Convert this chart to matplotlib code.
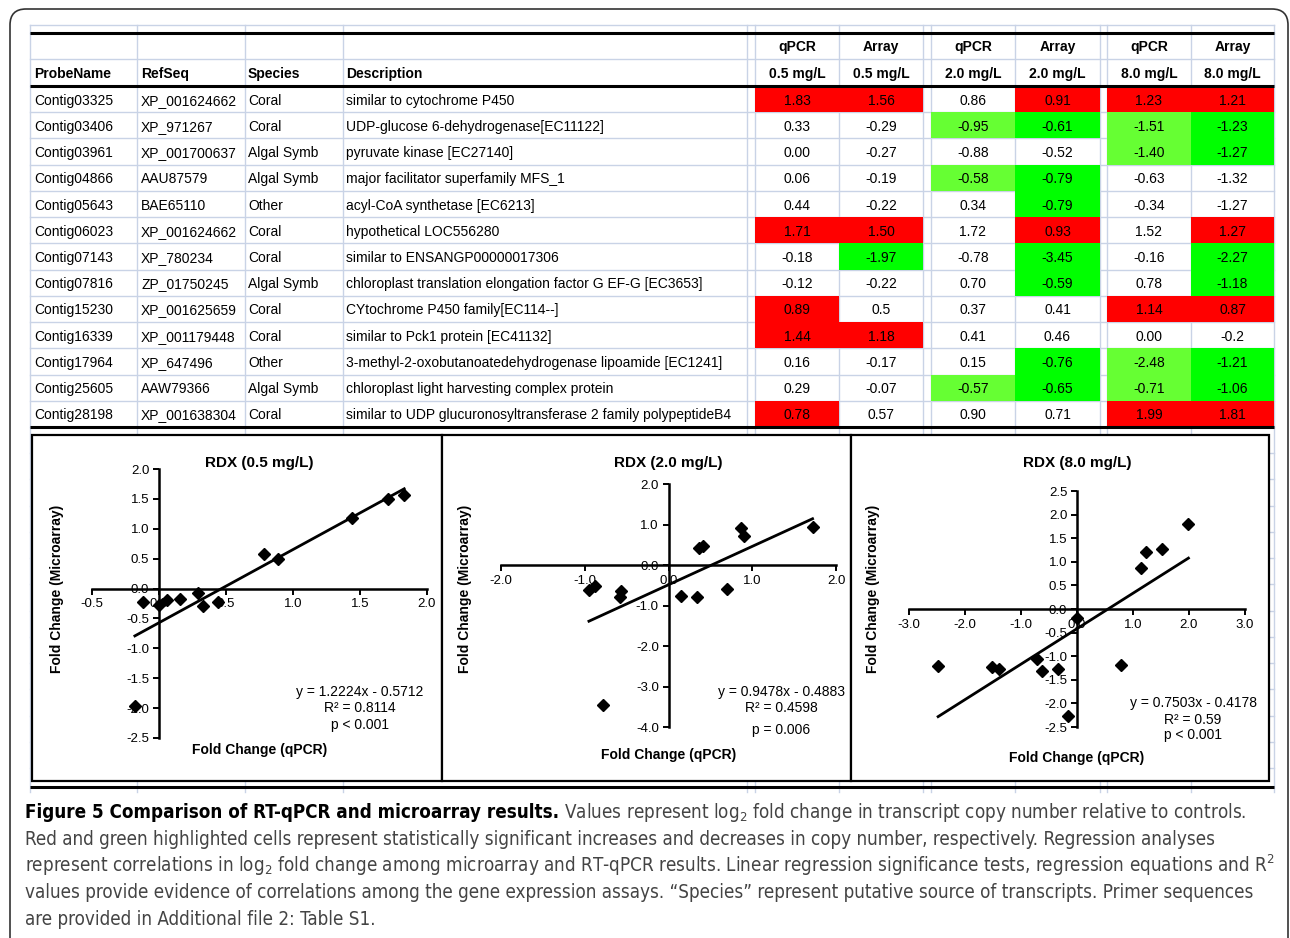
import numpy as np
import matplotlib.pyplot as plt
from matplotlib.patches import Rectangle, FancyBboxPatch
from matplotlib import font_manager

plt.rcParams['font.family'] = ['Liberation Sans', 'DejaVu Sans']
plt.rcParams['axes.unicode_minus'] = False

# ---- table data ----
probe = ["Contig03325", "Contig03406", "Contig03961", "Contig04866", "Contig05643",
         "Contig06023", "Contig07143", "Contig07816", "Contig15230", "Contig16339",
         "Contig17964", "Contig25605", "Contig28198"]
refseq = ["XP_001624662", "XP_971267", "XP_001700637", "AAU87579", "BAE65110",
          "XP_001624662", "XP_780234", "ZP_01750245", "XP_001625659", "XP_001179448",
          "XP_647496", "AAW79366", "XP_001638304"]
species = ["Coral", "Coral", "Algal Symb", "Algal Symb", "Other", "Coral", "Coral",
           "Algal Symb", "Coral", "Coral", "Other", "Algal Symb", "Coral"]
desc = ["similar to cytochrome P450",
        "UDP-glucose 6-dehydrogenase[EC11122]",
        "pyruvate kinase [EC27140]",
        "major facilitator superfamily MFS_1",
        "acyl-CoA synthetase [EC6213]",
        "hypothetical LOC556280",
        "similar to ENSANGP00000017306",
        "chloroplast translation elongation factor G EF-G [EC3653]",
        "CYtochrome P450 family[EC114--]",
        "similar to Pck1 protein [EC41132]",
        "3-methyl-2-oxobutanoatedehydrogenase lipoamide [EC1241]",
        "chloroplast light harvesting complex protein",
        "similar to UDP glucuronosyltransferase 2 family polypeptideB4"]

qpcr_05 = ["1.83", "0.33", "0.00", "0.06", "0.44", "1.71", "-0.18", "-0.12", "0.89", "1.44", "0.16", "0.29", "0.78"]
array_05 = ["1.56", "-0.29", "-0.27", "-0.19", "-0.22", "1.50", "-1.97", "-0.22", "0.5", "1.18", "-0.17", "-0.07", "0.57"]
qpcr_20 = ["0.86", "-0.95", "-0.88", "-0.58", "0.34", "1.72", "-0.78", "0.70", "0.37", "0.41", "0.15", "-0.57", "0.90"]
array_20 = ["0.91", "-0.61", "-0.52", "-0.79", "-0.79", "0.93", "-3.45", "-0.59", "0.41", "0.46", "-0.76", "-0.65", "0.71"]
qpcr_80 = ["1.23", "-1.51", "-1.40", "-0.63", "-0.34", "1.52", "-0.16", "0.78", "1.14", "0.00", "-2.48", "-0.71", "1.99"]
array_80 = ["1.21", "-1.23", "-1.27", "-1.32", "-1.27", "1.27", "-2.27", "-1.18", "0.87", "-0.2", "-1.21", "-1.06", "1.81"]

# significance flags: 'u' = increase (red), 'd' = decrease (green)
sig_q05 = ['u', '', '', '', '', 'u', '', '', 'u', 'u', '', '', 'u']
sig_a05 = ['u', '', '', '', '', 'u', 'd', '', '', 'u', '', '', '']
sig_q20 = ['', 'd', '', 'd', '', '', '', '', '', '', '', 'd', '']
sig_a20 = ['u', 'd', '', 'd', 'd', 'u', 'd', 'd', '', '', 'd', 'd', '']
sig_q80 = ['u', 'd', 'd', '', '', '', '', '', 'u', '', 'd', 'd', 'u']
sig_a80 = ['u', 'd', 'd', '', '', 'u', 'd', 'd', 'u', '', 'd', 'd', 'u']

num_heads = ["qPCR", "Array", "qPCR", "Array", "qPCR", "Array"]
num_units = ["0.5 mg/L", "0.5 mg/L", "2.0 mg/L", "2.0 mg/L", "8.0 mg/L", "8.0 mg/L"]
text_heads = ["ProbeName", "RefSeq", "Species", "Description"]

titles = ["RDX (0.5 mg/L)", "RDX (2.0 mg/L)", "RDX (8.0 mg/L)"]
eq_text = [["y = 1.2224x - 0.5712", "R\u00b2 = 0.8114", "p < 0.001"],
           ["y = 0.9478x - 0.4883", "R\u00b2 = 0.4598", "p = 0.006"],
           ["y = 0.7503x - 0.4178", "R\u00b2 = 0.59", "p < 0.001"]]

# ---- layout (pixels) ----
W, H = 1290, 938
fig = plt.figure(figsize=(W / 100, H / 100), dpi=100)
bg = fig.add_axes([0, 0, 1, 1])
bg.set_xlim(0, W)
bg.set_ylim(H, 0)
bg.axis('off')

grid_c = '#c9d3e6'
vlines = [30, 137, 245, 343, 747, 755, 839, 923, 931, 1015, 1100, 1107, 1191, 1274]
row_top, h1, h2, tab_bot = 33, 59, 86, 427
nrow = len(probe)
rh = (tab_bot - h2) / nrow
tfs = 10

# outer rounded frame
bg.add_patch(FancyBboxPatch((10, 9), 1278, 960, boxstyle="round,pad=0,rounding_size=16",
                            fc='white', ec='#333333', lw=1.2, zorder=0))

# excel-like grid
for x in vlines:
    bg.plot([x, x], [25, 792], color=grid_c, lw=1.0, zorder=1)
ys = [25, row_top, h1, h2] + [h2 + rh * i for i in range(1, nrow + 1)]
y = tab_bot + rh
while y < 792:
    ys.append(y)
    y += rh
for y in ys:
    bg.plot([30, 1274], [y, y], color=grid_c, lw=1.0, zorder=1)

# coloured cells and numbers
num_cols = [(755, 839), (839, 923), (931, 1015), (1015, 1100), (1107, 1191), (1191, 1274)]
num_vals = [qpcr_05, array_05, qpcr_20, array_20, qpcr_80, array_80]
num_sig = [sig_q05, sig_a05, sig_q20, sig_a20, sig_q80, sig_a80]
for j, ((x0, x1), vals, sig) in enumerate(zip(num_cols, num_vals, num_sig)):
    green = '#66ff33' if j % 2 == 0 else '#00ff00'
    for i, (v, s) in enumerate(zip(vals, sig)):
        yt = h2 + rh * i
        if s:
            bg.add_patch(Rectangle((x0, yt), x1 - x0, rh, fc='#ff0000' if s == 'u' else green,
                                   ec='none', zorder=2))
        bg.text((x0 + x1) / 2, yt + rh / 2, v, ha='center', va='center_baseline',
                fontsize=tfs, color='black', zorder=3)
    bg.text((x0 + x1) / 2, (row_top + h1) / 2, num_heads[j], ha='center', va='center_baseline',
            fontsize=tfs, fontweight='bold', zorder=3)
    bg.text((x0 + x1) / 2, (h1 + h2) / 2, num_units[j], ha='center', va='center_baseline',
            fontsize=tfs, fontweight='bold', zorder=3)

text_x = [34, 141, 248, 346]
for j, col in enumerate([probe, refseq, species, desc]):
    bg.text(text_x[j], (h1 + h2) / 2, text_heads[j], ha='left', va='center_baseline',
            fontsize=tfs, fontweight='bold', zorder=3)
    for i, v in enumerate(col):
        bg.text(text_x[j], h2 + rh * (i + 0.5), v, ha='left', va='center_baseline',
                fontsize=tfs, zorder=3)

for y in [row_top, h2, tab_bot, 787]:
    bg.plot([30, 1274], [y, y], color='black', lw=2.2, zorder=4, solid_capstyle='butt')

# panel frames
frames = [(32, 435, 442, 781), (442, 435, 851, 781), (851, 435, 1269, 781)]
for x0, y0, x1, y1 in frames:
    bg.add_patch(Rectangle((x0, y0), x1 - x0, y1 - y0, fc='white', ec='black', lw=1.6, zorder=5))

# ---- scatter panels ----
boxes = [(92, 469, 427, 738), (501, 484, 836, 727), (909, 491, 1245, 727)]
lims = [((-0.5, 2.0, 0.5), (-2.5, 2.0, 0.5)),
        ((-2.0, 2.0, 1.0), (-4.0, 2.0, 1.0)),
        ((-3.0, 3.0, 1.0), (-2.5, 2.5, 0.5))]
title_y = [463, 463, 463]
ylab_x = [57, 465, 873]
xlab_y = [750, 755, 758]
eq_x = [360, 781, 1193]
eq_y = [[692, 708, 725], [692, 708, 730], [703, 720, 735]]

pairs = [(qpcr_05, array_05), (qpcr_20, array_20), (qpcr_80, array_80)]
for k, (qs, ars) in enumerate(pairs):
    x = np.array(qs, dtype=float)
    yv = np.array(ars, dtype=float)
    x0, y0, x1, y1 = boxes[k]
    ax = fig.add_axes([x0 / W, 1 - y1 / H, (x1 - x0) / W, (y1 - y0) / H])
    ax.patch.set_alpha(0)
    (xa, xb, xs), (ya, yb, ys_) = lims[k]
    ax.set_xlim(xa, xb)
    ax.set_ylim(ya, yb)
    ax.set_xticks(np.arange(xa, xb + xs / 2, xs))
    ax.set_yticks(np.arange(ya, yb + ys_ / 2, ys_))
    ax.xaxis.set_major_formatter('{x:.1f}')
    ax.yaxis.set_major_formatter('{x:.1f}')
    for s in ['top', 'right']:
        ax.spines[s].set_visible(False)
    for s in ['left', 'bottom']:
        ax.spines[s].set_position(('data', 0))
        ax.spines[s].set_linewidth(1.8)
    ax.tick_params(direction='out', length=4, width=1.4, labelsize=9.5, pad=3)
    ax.plot(x, yv, 'D', color='black', markersize=6.5, zorder=5, clip_on=False)
    m, b = np.polyfit(x, yv, 1)
    xx = np.array([x.min(), x.max()])
    ax.plot(xx, m * xx + b, color='black', lw=2.0, zorder=4)

    cx = (x0 + x1) / 2
    bg.text(cx, title_y[k], titles[k], ha='center', va='center', fontsize=11, fontweight='bold', zorder=6)
    bg.text(cx, xlab_y[k], "Fold Change (qPCR)", ha='center', va='center', fontsize=10,
            fontweight='bold', zorder=6)
    bg.text(ylab_x[k], 589, "Fold Change (Microarray)", ha='center', va='center', rotation=90,
            fontsize=10, fontweight='bold', zorder=6)
    for line, yy in zip(eq_text[k], eq_y[k]):
        bg.text(eq_x[k], yy, line, ha='center', va='center', fontsize=10, zorder=6)

# ---- caption ----
names = {f.name for f in font_manager.fontManager.ttflist}
if 'Liberation Sans Narrow' in names:
    cap_kw = dict(family=['Liberation Sans Narrow', 'DejaVu Sans'])
else:
    cap_kw = dict(family=['DejaVu Sans'], stretch='condensed')

bold_part = "Figure 5 Comparison of RT-qPCR and microarray results."
cap_lines = [
    r" Values represent log$\mathregular{_2}$ fold change in transcript copy number relative to controls.",
    "Red and green highlighted cells represent statistically significant increases and decreases in copy number, respectively. Regression analyses",
    r"represent correlations in log$\mathregular{_2}$ fold change among microarray and RT-qPCR results. Linear regression significance tests, regression equations and R$\mathregular{^2}$",
    "values provide evidence of correlations among the gene expression assays. \u201cSpecies\u201d represent putative source of transcripts. Primer sequences",
    "are provided in Additional file 2: Table S1.",
]
cap_base = [818, 845, 872, 898, 925]
fs0 = 12
r = fig.canvas.get_renderer()
tb = bg.text(25, cap_base[0], bold_part, fontsize=fs0, fontweight='bold', color='black', va='baseline', **cap_kw)
t1 = bg.text(25, cap_base[0], cap_lines[0], fontsize=fs0, color='#444444', va='baseline', **cap_kw)
wb = tb.get_window_extent(r).width
w1 = t1.get_window_extent(r).width
fs = fs0 * 1220 / (wb + w1)
tb.set_fontsize(fs)
t1.set_fontsize(fs)
wb = tb.get_window_extent(r).width
t1.set_x(25 + wb)
for line, yb_ in zip(cap_lines[1:], cap_base[1:]):
    bg.text(25, yb_, line, fontsize=fs, color='#444444', va='baseline', **cap_kw)

fig.savefig('out.png', dpi=100)
